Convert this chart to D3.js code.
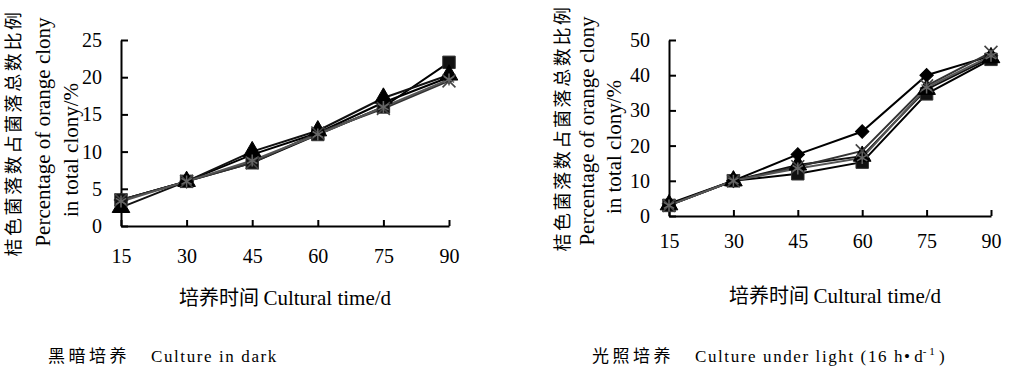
<!DOCTYPE html>
<html>
<head>
<meta charset="utf-8">
<script src="https://cdn.jsdelivr.net/npm/d3@7"></script>
<style>
	body { margin: 0; background: #fff; }
	.tick text { font-family: "Liberation Serif", serif; font-size: 20px; fill: #000; }
	.cn { font-family: "Noto Sans CJK SC", sans-serif; }
	.en { font-family: "Liberation Serif", serif; }
</style>
</head>
<body>
<div id="chart"></div>
<script>
// culture days (x categories)
var days = [15, 30, 45, 60, 75, 90];

// Culture in dark
var darkDiamond = [3.5, 6.0, 9.6, 12.5, 16.6, 20.0];
var darkSquare = [3.5, 6.0, 8.5, 12.3, 16.0, 22.0];
var darkTriangle = [2.5, 6.0, 10.0, 12.8, 17.2, 20.3];
var darkCross = [3.5, 6.0, 8.5, 12.5, 15.8, 19.5];
var darkStar = [3.3, 6.0, 8.8, 12.3, 16.0, 19.7];

// Culture under light
var lightDiamond = [3.5, 10.0, 17.5, 24.0, 40.0, 45.5];
var lightSquare = [3.0, 10.0, 12.0, 15.3, 34.7, 44.5];
var lightTriangle = [3.2, 10.0, 14.5, 17.0, 36.0, 45.0];
var lightCross = [3.0, 10.0, 14.0, 18.5, 37.0, 46.5];
var lightStar = [3.0, 10.0, 13.5, 16.5, 36.5, 45.5];

var darkTicks = [0, 5, 10, 15, 20, 25];
var lightTicks = [0, 10, 20, 30, 40, 50];

var width = 1009, height = 373;

var svg = d3
	.select("#chart")
	.append("svg")
	.attr("width", width)
	.attr("height", height);

function panel(opt) {
	var x = d3.scalePoint().domain(days).range([opt.left, opt.right]);
	var y = d3
		.scaleLinear()
		.domain([0, d3.max(opt.ticks)])
		.range([opt.bottom, opt.top]);

	var g = svg.append("g");

	// y axis, ticks pointing inward
	g.append("g")
		.attr("transform", `translate(${opt.left},0)`)
		.call(d3.axisLeft(y).tickValues(opt.ticks).tickSizeInner(-7).tickSizeOuter(0).tickPadding(19))
		.call((a) => a.selectAll("line, path").attr("stroke", "#000").attr("stroke-width", 2));

	// x axis
	g.append("g")
		.attr("transform", `translate(0,${opt.bottom})`)
		.call(d3.axisBottom(x).tickSizeInner(-6).tickSizeOuter(0).tickPadding(opt.xPad))
		.call((a) => a.selectAll("line, path").attr("stroke", "#000").attr("stroke-width", 2))
		.call((a) => a.selectAll(".tick text").attr("dy", "0.71em"));

	var line = d3
		.line()
		.x((d, i) => x(days[i]))
		.y((d) => y(d));

	var series = opt.series;
	series.forEach(function (s) {
		g.append("path")
			.attr("fill", "none")
			.attr("stroke", s.color)
			.attr("stroke-width", 2)
			.attr("d", line(s.values));
	});

	series.forEach(function (s) {
		var sym = d3.symbol().type(s.symbol).size(s.size);
		g.append("g")
			.selectAll("path")
			.data(s.values)
			.join("path")
			.attr("transform", (d, i) => `translate(${x(days[i])},${y(d)})${s.rot ? " rotate(45)" : ""}`)
			.attr("d", sym())
			.attr("fill", s.fill)
			.attr("stroke", s.stroke)
			.attr("stroke-width", s.sw);
	});

	// y title, three rotated lines
	var t = opt.ytitle;
	g.append("text")
		.attr("class", "cn")
		.attr("transform", `translate(${t.x0},${t.y0}) rotate(-90)`)
		.attr("text-anchor", "middle")
		.attr("dominant-baseline", "central")
		.attr("font-size", 18)
		.attr("letter-spacing", 2.6)
		.text("桔色菌落数占菌落总数比例");
	g.append("text")
		.attr("class", "en")
		.attr("transform", `translate(${t.x1},${t.y1}) rotate(-90)`)
		.attr("text-anchor", "middle")
		.attr("dominant-baseline", "central")
		.attr("font-size", 21)
		.text("Percentage of orange clony");
	g.append("text")
		.attr("class", "en")
		.attr("transform", `translate(${t.x2},${t.y2}) rotate(-90)`)
		.attr("text-anchor", "middle")
		.attr("dominant-baseline", "central")
		.attr("font-size", 21)
		.text("in total clony/%");

	// x title
	var xt = g.append("text")
		.attr("x", opt.xtitleX)
		.attr("y", opt.xtitleY)
		.attr("text-anchor", "middle")
		.attr("font-size", 20);
	xt.append("tspan").attr("class", "cn").text("培养时间 ");
	xt.append("tspan").attr("class", "en").attr("font-size", 21).text("Cultural time/d");

	// caption
	var cap = g.append("text")
		.attr("x", opt.capX)
		.attr("y", 362)
		.attr("font-size", 17);
	cap.append("tspan").attr("class", "cn").attr("letter-spacing", 3.5).text(opt.capCn);
	cap.append("tspan").attr("class", "en").attr("dx", 21).attr("letter-spacing", 1.6).text(opt.capEn);
	return cap;
}

function seriesOf(vals) {
	return [
		{ values: vals[0], symbol: d3.symbolSquare, rot: true, size: 90, fill: "#000", stroke: "#000", sw: 1, color: "#000" },
		{ values: vals[1], symbol: d3.symbolSquare, size: 155, fill: "#111", stroke: "#333", sw: 1, color: "#000" },
		{ values: vals[2], symbol: d3.symbolTriangle, size: 135, fill: "#000", stroke: "#000", sw: 1, color: "#111" },
		{ values: vals[3], symbol: d3.symbolX, size: 110, fill: "none", stroke: "#444", sw: 1.6, color: "#333" },
		{ values: vals[4], symbol: d3.symbolAsterisk, size: 100, fill: "none", stroke: "#666", sw: 1.5, color: "#555" }
	];
}

panel({
	left: 121, right: 449, top: 40, bottom: 226,
	ticks: darkTicks, xPad: 23,
	series: seriesOf([darkDiamond, darkSquare, darkTriangle, darkCross, darkStar]),
	ytitle: { x0: 12, y0: 133, x1: 43, y1: 132, x2: 71, y2: 150 },
	xtitleX: 285, xtitleY: 305,
	capX: 48, capCn: "黑暗培养", capEn: "Culture in dark"
});

var cap2 = panel({
	left: 669, right: 991, top: 40, bottom: 216,
	ticks: lightTicks, xPad: 18,
	series: seriesOf([lightDiamond, lightSquare, lightTriangle, lightCross, lightStar]),
	ytitle: { x0: 561, y0: 128, x1: 587, y1: 131, x2: 614, y2: 147 },
	xtitleX: 835, xtitleY: 303,
	capX: 592, capCn: "光照培养", capEn: "Culture under light (16 h"
});
cap2.append("tspan").attr("class", "en").text("• d");
cap2.append("tspan").attr("class", "en").attr("font-size", 11).attr("dy", -7).text("- 1");
cap2.append("tspan").attr("class", "en").attr("dy", 7).text(" )");
</script>
</body>
</html>
